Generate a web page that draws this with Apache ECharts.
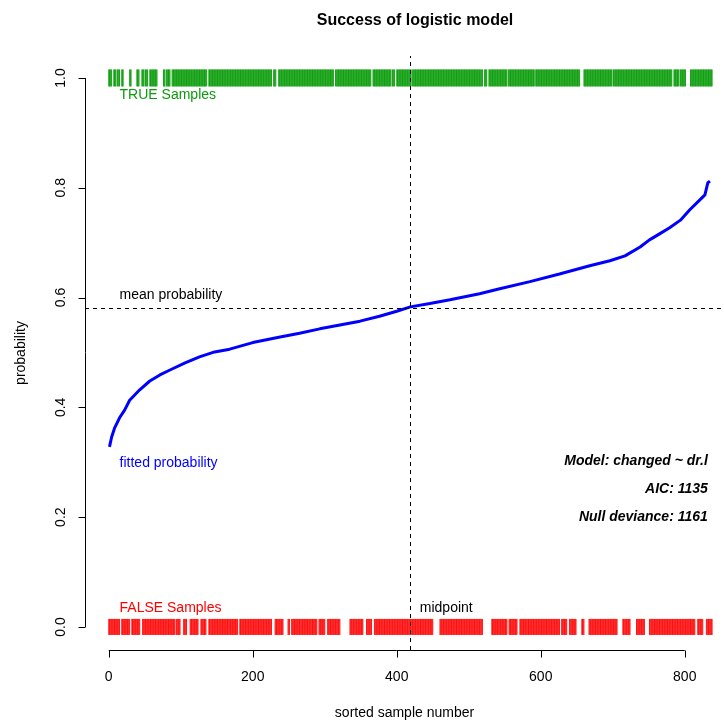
<!DOCTYPE html>
<html>
<head>
<meta charset="utf-8">
<script src="https://cdn.jsdelivr.net/npm/echarts@6/dist/echarts.min.js"></script>
<style>
  html, body { margin: 0; padding: 0; background: #fff; }
  #main { width: 724px; height: 723px; }
</style>
</head>
<body>
<div id="main"></div>
<script>
// fitted probability curve (sample index, probability)
var curveIdx = [1, 4, 8, 15, 22, 29, 43, 57, 71, 85, 106, 126, 147, 168, 200, 238, 265, 293, 321, 349,
  376, 400, 419, 446, 474, 515, 543, 585, 626, 668, 696, 717, 738, 751, 765, 779, 794, 807, 821, 828, 832, 835];
var curveProb = [0.328, 0.346, 0.362, 0.381, 0.395, 0.413, 0.432, 0.448, 0.459, 0.468, 0.481, 0.492, 0.501, 0.506,
  0.518, 0.528, 0.535, 0.543, 0.550, 0.557, 0.566, 0.575, 0.583, 0.589, 0.596, 0.607, 0.616, 0.629, 0.643, 0.658,
  0.667, 0.676, 0.692, 0.705, 0.716, 0.727, 0.741, 0.760, 0.778, 0.787, 0.809, 0.812];

// rug runs (sample index ranges that carry ticks)
var trueRuns = [[0, 4], [7, 10], [12, 15], [18, 20], [29, 31], [39, 42], [46, 49], [51, 54], [57, 60], [61, 67],
  [76, 78], [80, 85], [88, 136], [139, 226], [229, 232], [236, 312], [315, 364], [367, 392], [394, 397],
  [400, 420], [422, 519], [522, 525], [528, 553], [555, 591], [593, 654], [660, 699], [701, 782], [785, 792],
  [794, 801], [808, 838]];
var falseRuns = [[0, 15], [18, 29], [32, 43], [47, 92], [94, 99], [104, 108], [113, 124], [128, 135], [139, 179],
  [182, 226], [231, 242], [249, 251], [254, 289], [292, 300], [304, 321], [335, 353], [358, 365], [369, 450],
  [460, 519], [532, 553], [556, 560], [561, 567], [571, 626], [629, 636], [640, 649], [657, 660], [667, 706],
  [714, 724], [733, 744], [751, 814], [818, 825], [830, 838]];

var meanProb = 0.583;
var midpoint = 419;

var xTicks = [0, 200, 400, 600, 800];
var yTicks = [0, 0.2, 0.4, 0.6, 0.8, 1.0];
var xMin = -33, xMax = 854.5;
var yMin = -0.042, yMax = 1.040;

// annotations: [x, y, text, colour, align, bold italic]
var notes = [
  [15, 0.969, 'TRUE Samples', '#0a9a0a', 'left', 0],
  [15, 0.605, 'mean probability', '#000', 'left', 0],
  [15, 0.299, 'fitted probability', '#0000ff', 'left', 0],
  [15, 0.035, 'FALSE Samples', '#ff0000', 'left', 0],
  [432, 0.035, 'midpoint', '#000', 'left', 0],
  [832, 0.302, 'Model: changed ~ dr.l', '#000', 'right', 1],
  [832, 0.251, 'AIC: 1135', '#000', 'right', 1],
  [832, 0.200, 'Null deviance: 1161', '#000', 'right', 1]
];

var FONT = '"Liberation Sans", Arial, Helvetica, sans-serif';

function expandRuns(runs) {
  var out = [];
  runs.forEach(function (r) {
    for (var i = r[0]; i <= r[1]; i++) out.push([i]);
  });
  return out;
}

function rugItem(yVal, half) {
  return function (params, api) {
    var p = api.coord([api.value(0), yVal]);
    return {
      type: 'line',
      shape: { x1: p[0], y1: p[1] - half, x2: p[0], y2: p[1] + half },
      style: { stroke: api.visual('color'), lineWidth: 0.9 }
    };
  };
}

var curveData = curveIdx.map(function (x, i) { return [x, curveProb[i]]; });

var myChart = echarts.init(document.getElementById('main'));

var option = {
  animation: false,
  backgroundColor: '#fff',
  title: {
    text: 'Success of logistic model',
    left: 410,
    top: 8,
    textAlign: 'center',
    textStyle: { fontFamily: FONT, fontSize: 16, fontWeight: 'bold', color: '#000' }
  },
  grid: { left: 85, top: 56, right: 0, height: 594, outerBoundsMode: 'none', containLabel: false },
  xAxis: {
    type: 'value',
    min: xMin,
    max: xMax,
    name: 'sorted sample number',
    nameLocation: 'middle',
    nameGap: 56,
    nameTextStyle: { fontFamily: FONT, fontSize: 14, color: '#000' },
    axisLine: { show: false },
    axisTick: { show: false },
    axisLabel: { customValues: xTicks, margin: 20, fontFamily: FONT, fontSize: 14, color: '#000' },
    splitLine: { show: false }
  },
  yAxis: {
    type: 'value',
    min: yMin,
    max: yMax,
    name: 'probability',
    nameLocation: 'middle',
    nameGap: 57,
    nameRotate: 90,
    nameTextStyle: { fontFamily: FONT, fontSize: 14, color: '#000' },
    axisLine: { show: false },
    axisTick: { show: false },
    axisLabel: {
      customValues: yTicks, rotate: 90, margin: 17, fontFamily: FONT, fontSize: 14, color: '#000',
      formatter: function (v) { return v.toFixed(1); }
    },
    splitLine: { show: false }
  },
  series: [
    {
      name: 'axes',
      type: 'custom',
      clip: false,
      silent: true,
      data: [[0]],
      renderItem: function (params, api) {
        var st = { stroke: '#000', lineWidth: 1 };
        var a = api.coord([xTicks[0], yMin]);
        var b = api.coord([xTicks[xTicks.length - 1], yMin]);
        var c = api.coord([xMin, yTicks[0]]);
        var d = api.coord([xMin, yTicks[yTicks.length - 1]]);
        var yy = Math.round(a[1]) + 0.5, xx = Math.round(c[0]) + 0.5;
        var kids = [
          { type: 'line', shape: { x1: a[0], y1: yy, x2: b[0], y2: yy }, style: st },
          { type: 'line', shape: { x1: xx, y1: c[1], x2: xx, y2: d[1] }, style: st }
        ];
        xTicks.forEach(function (t) {
          var p = Math.round(api.coord([t, yMin])[0]) + 0.5;
          kids.push({ type: 'line', shape: { x1: p, y1: yy, x2: p, y2: yy + 7 }, style: st });
        });
        yTicks.forEach(function (t) {
          var p = Math.round(api.coord([xMin, t])[1]) + 0.5;
          kids.push({ type: 'line', shape: { x1: xx - 7, y1: p, x2: xx, y2: p }, style: st });
        });
        return { type: 'group', children: kids };
      }
    },
    {
      name: 'TRUE Samples',
      type: 'custom',
      silent: true,
      itemStyle: { color: '#009800' },
      data: expandRuns(trueRuns),
      renderItem: rugItem(1, 8.5)
    },
    {
      name: 'FALSE Samples',
      type: 'custom',
      silent: true,
      itemStyle: { color: '#ff0000' },
      data: expandRuns(falseRuns),
      renderItem: rugItem(0, 8)
    },
    {
      name: 'fitted probability',
      type: 'line',
      data: curveData,
      showSymbol: false,
      smooth: false,
      lineStyle: { color: '#0000ff', width: 3 },
      markLine: {
        silent: true,
        symbol: 'none',
        label: { show: false },
        lineStyle: { color: '#000', type: [4, 4], width: 1 },
        data: [{ yAxis: meanProb }, { xAxis: midpoint }]
      }
    },
    {
      name: 'notes',
      type: 'custom',
      silent: true,
      clip: false,
      data: notes.map(function (n, i) { return [n[0], n[1], i]; }),
      renderItem: function (params, api) {
        var n = notes[api.value(2)];
        var p = api.coord([n[0], n[1]]);
        return {
          type: 'text',
          x: p[0],
          y: p[1],
          style: {
            text: n[2],
            fill: n[3],
            align: n[4],
            verticalAlign: 'middle',
            font: (n[5] ? 'italic bold ' : '') + '14px ' + FONT
          }
        };
      }
    }
  ]
};

myChart.setOption(option);
window.addEventListener('resize', function () { myChart.resize(); });
</script>
</body>
</html>
